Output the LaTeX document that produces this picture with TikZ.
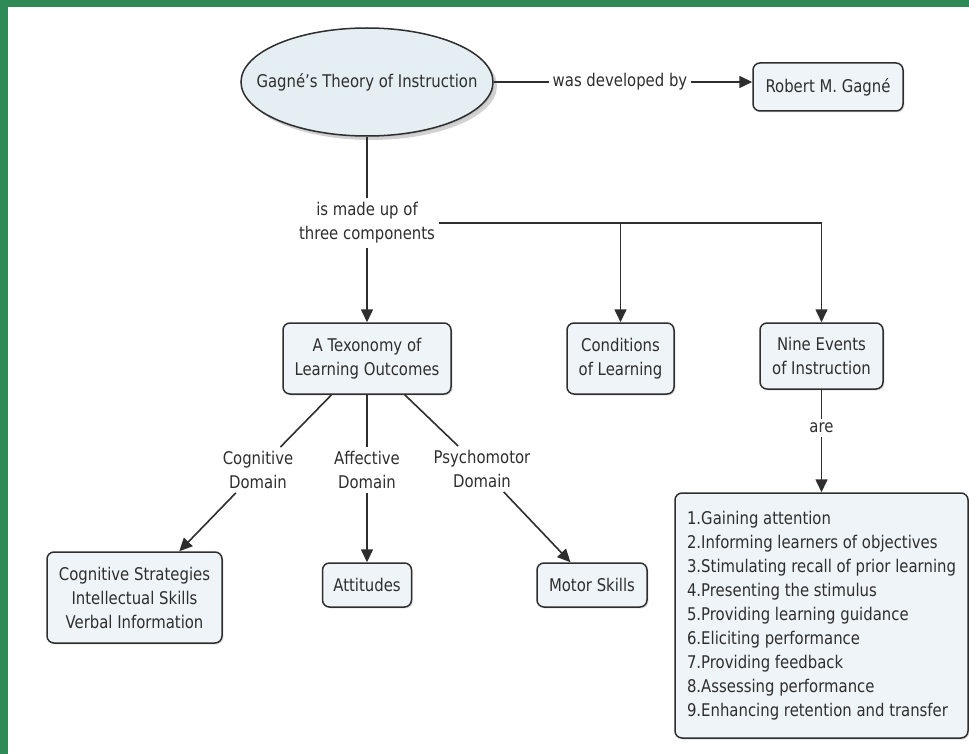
\documentclass[tikz,border=0pt]{standalone}
\usepackage{fontspec}
\setmainfont{DejaVu Sans}[FakeStretch=0.85]
\usepackage{tikz}
\usetikzlibrary{arrows.meta,shapes.geometric,shadows}
\definecolor{frame}{HTML}{2E8B57}
\definecolor{ink}{HTML}{2E2E2E}
\definecolor{boxfill}{HTML}{EEF4F7}
\definecolor{ovalfill}{HTML}{E4EEF3}
\newcommand{\MapFont}{\fontsize{17.5}{24}\selectfont}

\begin{document}
\begin{tikzpicture}[x=1pt,y=-1pt,
    concept/.style={draw=ink,line width=1.5pt,fill=boxfill,rounded corners=7pt,text=ink,
      align=center,font=\MapFont,inner sep=0pt,
      drop shadow={shadow xshift=1.5pt,shadow yshift=-1.5pt,fill=black!20}},
    linking/.style={text=ink,align=center,font=\MapFont,inner sep=4pt},
    link/.style={ink,line width=1.6pt},
    linkto/.style={link,-{Triangle[length=13pt,width=12pt]}}]
  \useasboundingbox (0,0) rectangle (969,754);
  \fill[white] (0,0) rectangle (969,754);
  \fill[frame] (0,0) rectangle (969,7);
  \fill[frame] (0,0) rectangle (8,754);

  % top row
  \node[concept,ellipse,rounded corners=0pt,fill=ovalfill,minimum width=252,minimum height=108,
        drop shadow={shadow xshift=4pt,shadow yshift=-4pt,fill=black!35}] (theory) at (367,82)
        {\makebox[0pt]{Gagné's Theory of Instruction}};
  \node[linking] (developed) at (620,82) {was developed by};
  \node[concept,minimum width=150,minimum height=48] (gagne) at (828,87) {Robert M. Gagné};
  \node[linking] (madeup) at (367,223) {is made up of\\three components};

  % three components
  \node[concept,minimum width=168,minimum height=71] (taxonomy) at (367,358.5) {A Texonomy of\\Learning Outcomes};
  \node[concept,minimum width=107,minimum height=71] (conditions) at (620.5,358.5) {Conditions\\of Learning};
  \node[concept,minimum width=123,minimum height=66] (events) at (821.5,356) {Nine Events\\of Instruction};

  % domains
  \node[linking] (cogdom) at (258,470) {Cognitive\\Domain};
  \node[linking] (affdom) at (367,470) {Affective\\Domain};
  \node[linking] (psydom) at (482,469) {Psychomotor\\Domain};
  \node[concept,minimum width=175,minimum height=91] (cogbox) at (134.5,597.5) {Cognitive Strategies\\Intellectual Skills\\Verbal Information};
  \node[concept,minimum width=89,minimum height=44] (attitudes) at (367,585) {Attitudes};
  \node[concept,minimum width=110,minimum height=44] (motor) at (592,585) {Motor Skills};

  % nine events
  \node[linking] (are) at (821.5,428) {are};
  \node[concept,align=left,minimum width=293,minimum height=245] (ninelist) at (821.5,615.5)
    {1.Gaining attention\\2.Informing learners of objectives\\3.Stimulating recall of prior learning\\4.Presenting the stimulus\\5.Providing learning guidance\\6.Eliciting performance\\7.Providing feedback\\8.Assessing performance\\9.Enhancing retention and transfer};

  % connectors
  \draw[link] (theory) -- (developed);
  \draw[linkto] (developed.east) -- (developed.east -| gagne.west);
  \draw[link] (theory) -- (madeup);
  \draw[linkto] (madeup) -- (taxonomy);
  \draw[link] (madeup.east) -- (madeup.east -| events.north);
  \draw[linkto] (madeup.east -| conditions.north) -- (conditions.north);
  \draw[linkto] (madeup.east -| events.north) -- (events.north);
  \draw[link] (taxonomy) -- (cogdom);
  \draw[linkto] (cogdom) -- (cogbox);
  \draw[link] (taxonomy) -- (affdom);
  \draw[linkto] (affdom) -- (attitudes);
  \draw[link] (taxonomy) -- (psydom);
  \draw[linkto] (psydom) -- (motor);
  \draw[link] (events) -- (are);
  \draw[linkto] (are) -- (ninelist);
\end{tikzpicture}
\end{document}
